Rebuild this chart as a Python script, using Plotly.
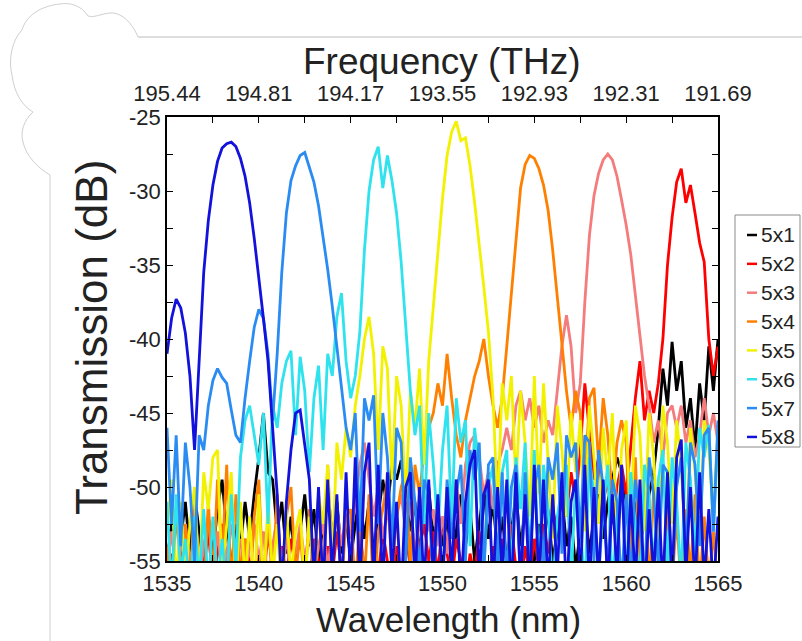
import plotly.graph_objects as go

# ---------------- data ----------------
wl_start = 1535.0
wl_step = 0.25
n_pts = 121
wavelength = [wl_start + wl_step * i for i in range(n_pts)]

series_names = ["5x1", "5x2", "5x3", "5x4", "5x5", "5x6", "5x7", "5x8"]
series_colors = ["#000000", "#ff0000", "#f47c7c", "#ff8000", "#f2f200",
                 "#2ee2ee", "#2a8cf2", "#1212dc"]

t_5x1 = [-55.0, -52.5, -56.0, -53.5, -51.0, -54.5, -50.5, -53.0, -55.5, -52.0, -54.5, -51.5, -49.5, -53.0, -55.5, -52.5, -54.0, -51.0, -53.5, -50.5,
         -48.0, -45.0, -49.0, -49.5, -53.0, -51.0, -54.5, -52.0, -55.5, -53.0, -50.5, -54.0, -51.5, -55.0, -52.5, -50.0, -53.5, -51.0, -54.5, -52.0,
         -55.0, -52.5, -50.5, -53.5, -51.0, -54.5, -52.0, -49.5, -51.5, -48.5, -49.5, -48.2, -50.5, -53.0, -51.0, -54.5, -52.0, -50.0, -53.5, -51.5,
         -54.0, -52.0, -55.5, -53.0, -50.5, -54.0, -51.5, -55.0, -52.5, -50.0, -53.5, -51.0, -54.5, -52.0, -55.0, -53.0, -50.5, -54.0, -51.5, -53.5,
         -55.0, -52.5, -54.0, -51.5, -55.0, -53.0, -50.5, -54.0, -52.0, -55.5, -53.0, -51.0, -54.5, -52.0, -50.5, -53.5, -51.0, -49.5, -48.0, -49.0,
         -51.0, -53.5, -51.0, -54.0, -52.0, -50.5, -49.0, -46.0, -42.0, -44.5, -40.2, -43.5, -41.5, -46.0, -44.0, -47.5, -43.0, -45.5, -40.5, -43.5,
         -40.0]

t_5x2 = [-56.5, -54.5, -57.0, -55.0, -53.5, -56.0, -54.0, -57.0, -55.5, -53.0, -56.5, -54.5, -52.5, -55.0, -57.0, -54.0, -56.0, -53.5, -55.5, -57.0,
         -54.5, -56.5, -53.0, -55.5, -57.0, -54.0, -56.0, -53.5, -55.5, -57.0, -54.5, -56.5, -53.5, -55.0, -57.0, -54.0, -56.0, -53.0, -55.5, -57.0,
         -54.0, -56.5, -53.5, -55.5, -57.0, -54.5, -56.0, -53.0, -55.0, -57.0, -54.0, -56.5, -53.5, -55.5, -57.0, -54.0, -52.5, -55.0, -53.0, -56.0,
         -52.0, -54.5, -56.5, -53.5, -55.0, -57.0, -54.5, -56.0, -53.0, -55.5, -57.0, -54.0, -56.5, -53.5, -55.0, -52.5, -55.5, -57.0, -54.0, -56.0,
         -53.5, -55.5, -52.5, -54.5, -51.5, -53.0, -50.5, -52.0, -49.0, -51.0, -47.5, -43.0, -46.5, -49.5, -48.0, -51.0, -49.5, -52.5, -50.0, -48.5,
         -50.5, -47.0, -44.0, -41.5, -45.5, -43.5, -45.0, -43.0, -40.0, -35.0, -31.8, -29.4, -28.5, -30.8, -29.6, -31.5, -33.5, -34.8, -40.0, -42.5,
         -40.5]

t_5x3 = [-55.5, -53.0, -56.0, -54.0, -52.5, -55.0, -53.5, -56.5, -54.0, -52.0, -55.5, -53.0, -56.0, -54.5, -52.5, -55.0, -53.5, -56.0, -54.0, -52.5,
         -55.0, -53.0, -56.5, -54.0, -52.0, -55.5, -53.5, -56.0, -54.5, -52.5, -55.0, -53.0, -56.0, -54.0, -52.5, -55.5, -53.0, -51.5, -54.0, -52.0,
         -53.5, -51.0, -48.5, -47.0, -49.5, -52.0, -50.0, -53.5, -51.5, -54.0, -52.0, -50.5, -53.0, -51.0, -54.5, -52.5, -50.0, -53.0, -51.5, -54.0,
         -52.0, -54.5, -51.0, -49.5, -52.5, -48.5, -47.0, -46.5, -48.0, -50.5, -49.0, -51.5, -48.5, -47.5, -46.0, -47.5, -44.5, -43.5, -45.5, -44.0,
         -46.0, -44.5, -47.0, -45.5, -46.5, -43.5, -40.5, -38.4, -40.5, -45.0, -43.0, -37.5, -33.0, -30.3, -28.8, -27.9, -27.5, -27.9, -29.0, -30.6,
         -32.3, -34.3, -37.0, -40.0, -42.5, -44.5, -47.0, -45.5, -48.0, -45.0, -44.5, -46.0, -44.5, -47.0, -45.5, -48.0, -46.5, -44.0, -46.5, -45.0,
         -47.0]

t_5x4 = [-54.0, -57.5, -51.5, -56.0, -52.5, -57.0, -50.5, -55.5, -57.5, -51.0, -56.5, -49.5, -55.0, -48.5, -57.0, -50.5, -56.0, -53.5, -57.5, -52.0,
         -49.5, -57.0, -52.0, -56.5, -50.5, -57.5, -52.0, -50.0, -56.0, -53.0, -57.0, -51.5, -56.5, -50.5, -57.0, -48.5, -55.5, -51.0, -57.0, -52.0,
         -51.5, -57.0, -52.0, -56.5, -50.5, -57.5, -53.0, -51.5, -49.5, -56.0, -52.0, -50.0, -49.0, -55.5, -48.5, -50.5, -47.5, -46.0, -45.0, -43.0,
         -44.5, -41.0, -44.0, -46.5, -48.0, -45.5, -44.0, -42.5, -41.5, -40.0, -42.5, -44.5, -46.0, -44.0, -40.5, -37.0, -33.0, -29.8, -28.2, -27.6,
         -27.8, -28.5, -29.6, -31.3, -34.0, -37.0, -40.3, -43.5, -46.0, -43.5, -45.0, -50.0, -44.0, -43.3, -48.5, -44.0, -46.5, -51.0, -47.0, -45.5,
         -47.0, -54.5, -48.0, -56.0, -49.0, -57.0, -50.0, -55.0, -57.5, -51.0, -56.5, -52.0, -57.0, -51.5, -56.0, -50.5, -57.0, -52.0, -56.5, -53.0,
         -57.0]

t_5x5 = [-53.0, -49.5, -57.0, -51.0, -56.5, -52.5, -50.0, -57.0, -49.0, -51.5, -48.0, -47.5, -56.0, -52.5, -49.0, -57.0, -51.0, -56.5, -52.0, -57.0,
         -50.5, -57.0, -51.0, -56.0, -52.5, -57.5, -51.5, -56.0, -53.0, -51.5, -57.0, -52.0, -56.5, -50.5, -52.5, -48.5, -55.0, -47.0, -49.5, -46.0,
         -48.0, -44.5, -42.5, -40.0, -38.5, -41.0, -47.5, -40.5, -42.0, -49.5, -42.5, -44.5, -51.0, -43.5, -46.0, -42.0, -48.5, -41.5, -38.0, -34.5,
         -30.5, -27.6, -26.0, -25.3, -26.6, -26.4, -28.3, -30.8, -33.5, -36.5, -39.5, -44.0, -51.5, -43.0, -45.5, -42.5, -50.0, -43.5, -47.0, -52.0,
         -42.5, -50.5, -43.0, -48.0, -53.5, -44.5, -47.5, -52.0, -45.0, -49.0, -45.5, -53.0, -44.5, -48.0, -52.5, -46.0, -49.5, -45.0, -54.0, -47.5,
         -45.5, -52.5, -44.5, -46.5, -53.0, -45.0, -48.0, -54.0, -44.5, -47.0, -52.5, -45.5, -48.5, -55.0, -46.0, -49.0, -53.5, -45.5, -47.5, -52.0,
         -46.0]

t_5x6 = [-51.0, -57.0, -50.5, -56.0, -53.5, -57.5, -52.0, -56.5, -51.5, -57.0, -52.0, -56.5, -53.5, -57.0, -50.5, -55.5, -48.0, -45.5, -44.5, -46.5,
         -48.5, -45.0, -52.5, -44.5, -46.0, -43.0, -41.5, -40.8, -46.5, -41.2, -43.5, -49.0, -44.0, -41.8, -47.5, -41.0, -42.5, -38.5, -36.9, -41.5,
         -44.0, -42.5, -39.5, -34.0, -30.0, -27.9, -27.0, -29.8, -27.6, -29.3, -31.5, -34.8, -39.0, -43.5, -46.5, -44.5, -52.5, -45.0, -48.5, -53.0,
         -47.5, -44.5, -52.5, -44.0, -47.0, -45.5, -54.0, -46.0, -49.0, -55.5, -50.0, -48.5, -56.0, -49.0, -47.5, -56.5, -48.0, -51.5, -47.0, -55.5,
         -47.5, -56.0, -48.5, -51.5, -57.0, -52.0, -50.0, -48.5, -56.5, -49.5, -52.5, -57.0, -48.0, -50.5, -56.0, -51.5, -48.5, -57.0, -52.0, -49.5,
         -56.5, -49.0, -52.5, -57.0, -48.5, -50.5, -55.5, -49.5, -47.5, -56.0, -48.0, -51.0, -56.5, -47.0, -49.5, -55.0, -46.0, -48.0, -45.8, -53.0,
         -46.5]

t_5x7 = [-46.0, -52.5, -46.5, -54.0, -47.0, -50.0, -55.0, -46.5, -47.5, -44.5, -42.8, -42.0, -42.6, -43.0, -44.8, -46.5, -47.0, -44.0, -41.5, -39.2,
         -38.0, -38.6, -41.0, -45.5, -41.0, -35.5, -31.5, -29.3, -28.3, -27.6, -27.4, -28.4, -29.4, -31.0, -33.0, -35.3, -37.8, -40.5, -43.5, -46.0,
         -47.5, -45.0, -53.0, -44.0, -45.5, -43.8, -52.5, -45.0, -48.0, -54.0, -46.0, -47.0, -55.0, -48.0, -51.0, -56.0, -49.5, -50.5, -57.0, -51.0,
         -56.5, -49.5, -53.5, -50.5, -48.5, -55.0, -47.5, -49.5, -47.0, -56.0, -48.5, -48.0, -55.5, -49.0, -56.5, -50.0, -48.5, -57.0, -49.0, -55.0,
         -50.0, -48.5, -56.0, -48.0, -49.5, -47.0, -54.5, -46.5, -48.0, -47.0, -53.5, -46.5, -47.0, -55.0, -47.5, -50.0, -56.0, -49.5, -51.0, -57.0,
         -50.5, -56.5, -49.5, -52.0, -57.0, -48.0, -50.5, -55.5, -48.5, -49.0, -56.5, -50.0, -48.0, -55.0, -47.0, -48.5, -54.0, -46.5, -46.0, -53.0,
         -45.5]

t_5x8 = [-41.0, -38.6, -37.3, -37.9, -39.6, -42.5, -47.5, -41.0, -35.5, -32.0, -29.6, -28.0, -27.1, -26.8, -26.7, -27.0, -27.8, -29.0, -30.8, -33.2,
         -35.8, -38.6, -41.5, -46.0, -50.5, -57.0, -51.0, -47.5, -45.0, -44.8, -47.2, -49.5, -56.5, -50.0, -57.0, -49.5, -56.0, -50.5, -57.5, -49.0,
         -56.5, -48.0, -57.0, -49.0, -47.0, -56.5, -48.5, -57.0, -49.0, -56.0, -51.0, -57.5, -50.0, -49.0, -56.5, -50.0, -57.0, -49.5, -56.0, -50.5,
         -57.0, -50.0, -56.0, -49.5, -57.5, -51.0, -48.5, -47.5, -56.5, -50.5, -49.5, -57.0, -50.0, -56.0, -49.5, -57.5, -49.0, -56.5, -50.5, -57.0,
         -48.5, -56.5, -49.5, -57.0, -50.5, -56.0, -49.0, -57.5, -51.0, -49.5, -56.5, -48.5, -57.0, -50.0, -56.5, -49.5, -57.0, -50.5, -56.0, -48.5,
         -57.0, -50.5, -56.5, -49.5, -57.5, -51.5, -56.0, -50.0, -57.0, -49.0, -56.5, -48.0, -46.8, -56.0, -50.0, -57.0, -49.0, -56.5, -51.5, -57.0,
         -52.0]

series_values = [t_5x1, t_5x2, t_5x3, t_5x4, t_5x5, t_5x6, t_5x7, t_5x8]
for s in series_values:
    assert len(s) == n_pts, len(s)

wl_ticks = [1535, 1540, 1545, 1550, 1555, 1560, 1565]
freq_tick_text = ["195.44", "194.81", "194.17", "193.55", "192.93", "192.31", "191.69"]
db_ticks = [-55, -50, -45, -40, -35, -30, -25]

# ---------------- geometry helpers (pixel -> paper) ----------------
PL, PR, PT, PB = 167, 718, 117, 561


def px(x):
    return (x - PL) / (PR - PL)


def py(y):
    return (PB - y) / (PB - PT)


FONT = "Liberation Sans, Arial, sans-serif"
fig = go.Figure()

for name, color, vals in zip(series_names, series_colors, series_values):
    fig.add_trace(go.Scatter(x=wavelength, y=vals, mode="lines", name=name,
                             line=dict(color=color, width=2.8), showlegend=False))

# helper trace so the top (frequency) axis is drawn
fig.add_trace(go.Scatter(x=[wl_ticks[0], wl_ticks[-1]], y=[db_ticks[0], db_ticks[0]],
                         xaxis="x2", mode="lines", line=dict(width=0),
                         hoverinfo="skip", showlegend=False))

axis_common = dict(showgrid=False, zeroline=False, showline=True, linecolor="black",
                   linewidth=1.5, mirror="ticks", ticks="inside", ticklen=6,
                   tickwidth=1.2, tickcolor="black",
                   tickfont=dict(family=FONT, size=22, color="#222"))

fig.update_layout(
    width=802, height=641,
    margin=dict(l=PL, r=802 - PR, t=PT, b=641 - PB),
    paper_bgcolor="white", plot_bgcolor="white",
    showlegend=False,
    xaxis=dict(range=[1535, 1565], tickvals=wl_ticks,
               ticktext=[str(v) for v in wl_ticks], ticklabelstandoff=2,
               minor=dict(ticks="inside", ticklen=6, tick0=1535, dtick=2.5,
                          tickcolor="black", tickwidth=1.2),
               **axis_common),
    yaxis=dict(range=[-55, -25], tickvals=db_ticks,
               ticktext=[str(v) for v in db_ticks],
               minor=dict(ticks="inside", ticklen=6, tick0=-55, dtick=2.5,
                          tickcolor="black", tickwidth=1.2),
               **axis_common),
    xaxis2=dict(overlaying="x", side="top", range=[1535, 1565],
                tickvals=wl_ticks, ticktext=freq_tick_text, ticks="",
                showline=False, showgrid=False, zeroline=False,
                ticklabelstandoff=11,
                tickfont=dict(family=FONT, size=22, color="#222")),
)

annotations = [
    dict(text="Frequency (THz)", xref="paper", yref="paper", x=px(442), y=1,
         yshift=56, showarrow=False, xanchor="center", yanchor="middle",
         font=dict(family=FONT, size=37, color="#222")),
    dict(text="Wavelength (nm)", xref="paper", yref="paper", x=px(448), y=0,
         yshift=-58, showarrow=False, xanchor="center", yanchor="middle",
         font=dict(family=FONT, size=35, color="#222")),
    dict(text="Transmission (dB)", xref="paper", yref="paper", x=0, y=py(338),
         xshift=-76, textangle=-90, showarrow=False, xanchor="center",
         yanchor="middle", font=dict(family=FONT, size=44, color="#222")),
]

shapes = []
# manual legend box
shapes.append(dict(type="rect", xref="paper", yref="paper",
                   x0=px(735), x1=px(800), y0=py(447), y1=py(215),
                   line=dict(color="#8a8a8a", width=1), fillcolor="white"))
for i, (name, color) in enumerate(zip(series_names, series_colors)):
    yc = 235 + 28.85 * i
    shapes.append(dict(type="line", xref="paper", yref="paper",
                       x0=px(747), x1=px(757), y0=py(yc), y1=py(yc),
                       line=dict(color=color, width=2.5)))
    annotations.append(dict(text=name, xref="paper", yref="paper", x=px(759),
                            y=py(yc), showarrow=False, xanchor="left",
                            yanchor="middle",
                            font=dict(family=FONT, size=21, color="#222")))

# page decoration at the top-left (light gray outline)
deco = [("M", [(138, 37)]),
        ("C", [(134, 27), (124, 12), (110, 13)]),
        ("C", [(100, 14), (94, 18), (88, 16)]),
        ("C", [(82, 6), (70, 2), (60, 4)]),
        ("C", [(40, 6), (26, 16), (22, 30)]),
        ("C", [(12, 40), (8, 60), (12, 75)]),
        ("C", [(14, 92), (22, 106), (33, 112)]),
        ("C", [(24, 120), (20, 132), (23, 142)]),
        ("C", [(26, 156), (38, 168), (50, 175)]),
        ("L", [(50, 641)])]
path = " ".join(cmd + " " + " ".join(f"{px(x):.5f},{py(y):.5f}" for x, y in pts)
                for cmd, pts in deco)
shapes.append(dict(type="path", xref="paper", yref="paper", path=path,
                   line=dict(color="#cfcfcf", width=1)))
shapes.append(dict(type="line", xref="paper", yref="paper",
                   x0=px(138), x1=px(802), y0=py(37), y1=py(37),
                   line=dict(color="#bdbdbd", width=1)))

fig.update_layout(annotations=annotations, shapes=shapes)
fig.write_html("out.html")
